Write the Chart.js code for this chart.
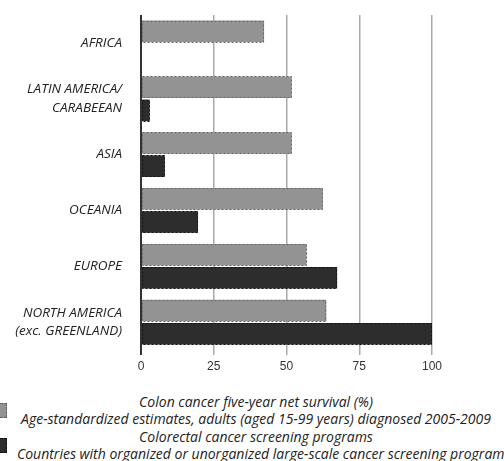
<!DOCTYPE html>
<html lang="en">
<head>
<meta charset="UTF-8" />
<title>Colon cancer survival and screening</title>
<script src="https://cdn.jsdelivr.net/npm/chart.js"></script>
<style>
  html, body { margin: 0; padding: 0; background: #fff; overflow: hidden; }
  #wrap { position: relative; width: 504px; height: 461px; overflow: hidden; }
  #myChart { position: absolute; left: 0; top: 0; }
  .legline {
    position: absolute; left: 0; width: 512px; text-align: center; white-space: nowrap;
    font: italic 14px "Open Sans", "Lato", sans-serif; color: #222; line-height: 17px;
  }
  .mark { position: absolute; left: -8px; width: 15px; height: 15px; }
</style>
</head>
<body>
<div id="wrap">
  <canvas id="myChart" width="504" height="380"></canvas>
  <div class="mark" style="top:403px;background:#939393;border:1px dashed #666;box-sizing:border-box"></div>
  <div class="mark" style="top:438px;background:#2d2d2d;border:1px dashed #111;box-sizing:border-box"></div>
  <div class="legline" id="leg1" style="top:393px"></div>
  <div class="legline" id="leg2" style="top:410px"></div>
  <div class="legline" id="leg3" style="top:428px"></div>
  <div class="legline" id="leg4" style="top:445px;text-align:left;left:17px"></div>
</div>
<script>
  const regions = [
    "AFRICA",
    ["LATIN AMERICA/", "CARABEEAN"],
    "ASIA",
    "OCEANIA",
    "EUROPE",
    ["NORTH AMERICA", "(exc. GREENLAND)"],
  ];
  const survival = [42.3, 51.8, 51.8, 62.5, 56.9, 63.7];
  const screening = [null, 3, 8.2, 19.6, 67.4, 100];
  const xTicks = [0, 25, 50, 75, 100];

  const survivalTitle = "Colon cancer five-year net survival (%)";
  const survivalNote = "Age-standardized estimates, adults (aged 15-99 years) diagnosed 2005-2009";
  const screeningTitle = "Colorectal cancer screening programs";
  const screeningNote = "Countries with organized or unorganized large-scale cancer screening programs";

  document.getElementById("leg1").textContent = survivalTitle;
  document.getElementById("leg2").textContent = survivalNote;
  document.getElementById("leg3").textContent = screeningTitle;
  document.getElementById("leg4").textContent = screeningNote;

  // dashed outline round every bar, like the original
  const dashedBorders = {
    id: "dashedBorders",
    afterDatasetsDraw(chart) {
      const ctx = chart.ctx;
      const strokes = ["#666", "#111"];
      chart.data.datasets.forEach((ds, i) => {
        const meta = chart.getDatasetMeta(i);
        meta.data.forEach((bar, j) => {
          if (ds.data[j] == null) return;
          const { x, y, base, height } = bar.getProps(["x", "y", "base", "height"], true);
          ctx.save();
          ctx.strokeStyle = strokes[i];
          ctx.lineWidth = 1;
          ctx.setLineDash([2, 2]);
          ctx.strokeRect(Math.round(base) + 0.5, Math.round(y - height / 2) + 0.5,
            Math.round(x - base) - 1, Math.round(height) - 1);
          ctx.restore();
        });
      });
    },
  };

  const ctx = document.getElementById("myChart").getContext("2d");
  new Chart(ctx, {
    type: "bar",
    data: {
      labels: regions,
      datasets: [
        { label: survivalTitle, data: survival, backgroundColor: "#939393", borderWidth: 0 },
        { label: screeningTitle, data: screening, backgroundColor: "#2d2d2d", borderWidth: 0 },
      ],
    },
    options: {
      indexAxis: "y",
      responsive: false,
      animation: false,
      categoryPercentage: 0.83,
      barPercentage: 0.93,
      layout: { padding: { top: 15, right: 72, left: 0, bottom: 0 } },
      plugins: { legend: { display: false }, tooltip: { enabled: false } },
      scales: {
        x: {
          min: 0,
          max: 100,
          afterBuildTicks: (s) => { s.ticks = xTicks.map((v) => ({ value: v })); },
          afterFit: (s) => { s.height = 30; s.paddingLeft = 0; s.paddingRight = 0; },
          border: { display: false },
          grid: {
            color: (c) => (c.tick && c.tick.value === 0 ? "#333" : "#aaa"),
            lineWidth: (c) => (c.tick && c.tick.value === 0 ? 2 : 1.5),
            tickLength: 5,
          },
          ticks: {
            color: "#333",
            padding: 4,
            font: { family: "'Liberation Sans', Arial, sans-serif", size: 12 },
          },
        },
        y: {
          afterFit: (s) => { s.width = 141; s.paddingTop = 0; s.paddingBottom = 0; },
          border: { display: false },
          grid: { display: false, drawTicks: false, tickLength: 0 },
          ticks: {
            color: "#222",
            padding: 19,
            font: { family: "'Open Sans', Lato, sans-serif", size: 13.5, style: "italic", lineHeight: 1.35 },
          },
        },
      },
    },
    plugins: [dashedBorders],
  });
</script>
</body>
</html>
